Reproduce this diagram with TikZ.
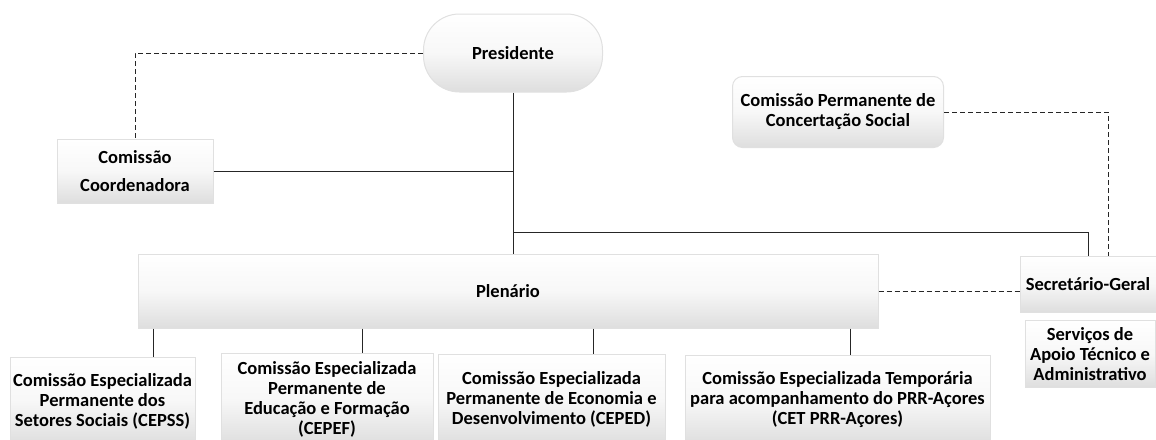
\documentclass[tikz,border=0pt]{standalone}
\usepackage{fontspec}
\setmainfont{Carlito}

\begin{document}
\begin{tikzpicture}[x=1pt,y=-1pt,
  box/.style={rectangle, draw=black!12, line width=1pt, top color=white, bottom color=black!13, middle color=white!97!black, align=center, inner sep=2pt, font=\fontsize{18.5}{20}\selectfont\bfseries},
  link/.style={line width=1pt, black!85},
  dlink/.style={link, dash pattern=on 5pt off 3pt}]
\clip (0,0) rectangle (1156,439);
% top of the chart
\node[box, rounded corners=36pt, minimum width=179pt, minimum height=78pt] (pres) at (513,53) {Presidente};
\node[box, minimum width=156pt, minimum height=64pt] (coord) at (135,171) {Comissão\\[8pt]Coordenadora};
\node[box, rounded corners=10pt, minimum width=211pt, minimum height=71pt] (concert) at (838,112) {Comissão Permanente de\\Concertação Social};
\node[box, minimum width=740pt, minimum height=74pt] (plen) at (508,291) {Plenário};
\node[box, minimum width=136pt, minimum height=56pt] (secg) at (1088,284) {Secretário-Geral};
\node[box, minimum width=130pt, minimum height=67pt] (serv) at (1090,354) {Serviços de\\Apoio Técnico e\\Administrativo};
% specialised commissions
\node[box, minimum width=185pt, minimum height=88pt] (cepss) at (102.5,401) {Comissão Especializada\\Permanente dos\\Setores Sociais (CEPSS)};
\node[box, minimum width=212pt, minimum height=92pt] (cepef) at (327,399) {Comissão Especializada\\Permanente de\\Educação e Formação\\(CEPEF)};
\node[box, minimum width=227pt, minimum height=91pt] (ceped) at (551.5,399.5) {Comissão Especializada\\Permanente de Economia e\\Desenvolvimento (CEPED)};
\node[box, minimum width=305pt, minimum height=90pt] (cet) at (837.5,400) {Comissão Especializada Temporária\\para acompanhamento do PRR-Açores\\(CET PRR-Açores)};
\coordinate (trunk) at (513,232);
\coordinate (secgd) at (1108,256);
% connectors
\draw[dlink] (pres.west) -| (coord.north);
\draw[link] (coord.east) -- (pres.south |- coord.east);
\draw[link] (pres.south) -- (pres.south |- plen.north);
\draw[link] (trunk) -| (secg.north);
\draw[dlink] (concert.east) -| (secgd);
\draw[dlink] (plen.east) -- (plen.east -| secg.west);
\foreach \b/\x in {cepss/153,cepef/362,ceped/593,cet/850}
  \draw[link] (plen.south -| \x,0) -- (\b.north -| \x,0);
\end{tikzpicture}
\end{document}
